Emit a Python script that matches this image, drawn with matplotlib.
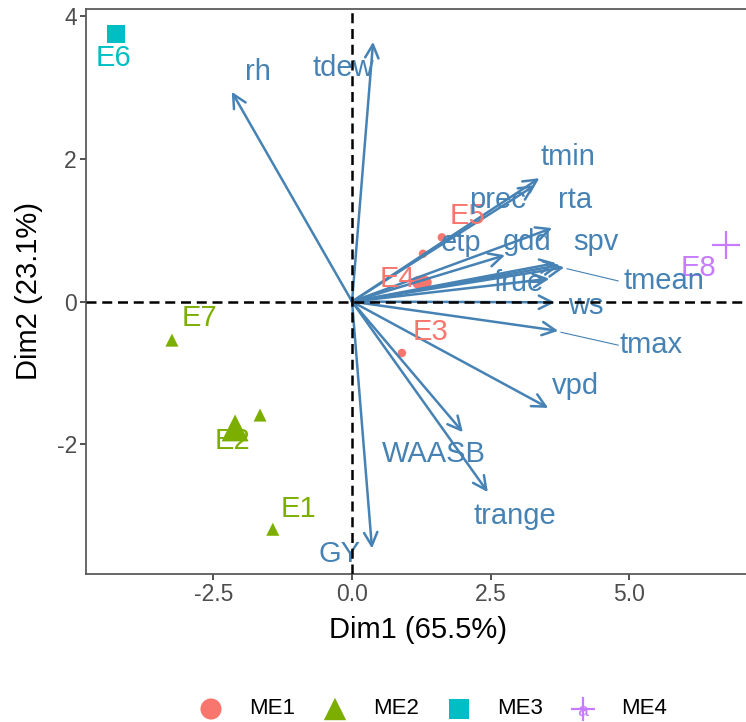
import matplotlib
matplotlib.use("Agg")
import matplotlib.pyplot as plt

plt.rcParams["font.family"] = ["Liberation Sans", "DejaVu Sans"]
plt.rcParams["axes.unicode_minus"] = False

# environment scores (Dim1, Dim2)
env_names = ["E1", "E2", "E3", "E4", "E5", "E6", "E7", "E8"]
env_group = ["ME2", "ME2", "ME1", "ME1", "ME1", "ME3", "ME2", "ME4"]
env_x = [-1.43, -2.11, 0.90, 1.32, 1.62, -4.26, -3.25, 6.75]
env_y = [-3.19, -1.77, -0.72, 0.27, 0.90, 3.75, -0.54, 0.79]
env_size = [88, 377, 37, 88, 37, 169, 88, 400]
env_lab_x = [-0.96, -2.15, 1.41, 0.81, 2.09, -4.30, -2.76, 6.25]
env_lab_y = [-2.90, -1.96, -0.43, 0.32, 1.20, 3.41, -0.23, 0.47]

# extra overlapping scores without their own label
extra_group = ["ME1", "ME1", "ME2"]
extra_x = [1.28, 1.20, -1.66]
extra_y = [0.67, 0.27, -1.59]
extra_size = [37, 88, 88]

# variable loadings
var_names = ["rh", "tdew", "GY", "tmin", "prec", "gdd", "etp", "rta", "spv",
             "tmean", "frue", "ws", "tmax", "vpd", "WAASB", "trange"]
var_x = [-2.17, 0.38, 0.36, 3.38, 3.30, 3.61, 2.76, 3.68, 3.75,
         3.83, 3.56, 3.66, 3.72, 3.54, 2.00, 2.45]
var_y = [2.94, 3.64, -3.46, 1.73, 1.63, 1.03, 0.65, 0.54, 0.51,
         0.48, 0.32, -0.01, -0.41, -1.49, -1.83, -2.67]
var_lab_x = [-1.70, -0.16, -0.22, 3.90, 2.62, 3.16, 1.97, 4.03, 4.40,
             5.63, 3.00, 4.21, 5.40, 4.03, 1.48, 2.94]
var_lab_y = [3.22, 3.27, -3.54, 2.03, 1.42, 0.83, 0.82, 1.42, 0.83,
             0.29, 0.26, -0.06, -0.61, -1.18, -2.14, -3.01]
leader_vars = {"tmean": 0.83, "tmax": 0.60}

groups = ["ME1", "ME2", "ME3", "ME4"]
colors = {"ME1": "#F8766D", "ME2": "#7CAE00", "ME3": "#00BFC4", "ME4": "#C77CFF"}
markers = {"ME1": "o", "ME2": "^", "ME3": "s", "ME4": "+"}
arrow_col = "#4682B4"

fig = plt.figure(figsize=(7.46, 7.22), dpi=100)
ax = fig.add_axes([86 / 746, 148.5 / 722, 664 / 746, 564.5 / 722])

for g, x, y, s in zip(extra_group + env_group, extra_x + env_x,
                      extra_y + env_y, extra_size + env_size):
    if markers[g] == "+":
        ax.scatter(x, y, s=s, marker="+", color=colors[g], linewidths=1.6, zorder=2)
    else:
        ax.scatter(x, y, s=s, marker=markers[g], color=colors[g],
                   edgecolors="none", zorder=2)

for name, g, lx, ly in zip(env_names, env_group, env_lab_x, env_lab_y):
    ax.text(lx, ly, name, color=colors[g], fontsize=21, ha="center",
            va="center", zorder=4)

for name, x, y, lx, ly in zip(var_names, var_x, var_y, var_lab_x, var_lab_y):
    ax.annotate("", xy=(x, y), xytext=(0, 0),
                arrowprops=dict(arrowstyle="->,head_length=0.6,head_width=0.3",
                                color=arrow_col, lw=1.8, mutation_scale=16,
                                shrinkA=0, shrinkB=0),
                zorder=3)
    ax.text(lx, ly, name, color=arrow_col, fontsize=21, ha="center",
            va="center", zorder=4)
    if name in leader_vars:
        ax.plot([x + 0.05, lx - leader_vars[name]], [y - 0.02, ly],
                color=arrow_col, lw=0.8, zorder=3)

ax.axhline(0, color="black", lw=1.8, ls=(0, (4, 2.3)), zorder=5)
ax.axvline(0, color="black", lw=1.8, ls=(0, (4, 2.3)), zorder=5)

ax.set_xlim(-4.80, 7.18)
ax.set_ylim(-3.81, 4.10)
ax.set_xticks([-2.5, 0.0, 2.5, 5.0])
ax.set_xticklabels(["-2.5", "0.0", "2.5", "5.0"])
ax.set_yticks([-2, 0, 2, 4])
ax.tick_params(length=4.5, width=1.2, color="#333333", labelsize=16.5,
               labelcolor="#4D4D4D", pad=2)
for sp in ax.spines.values():
    sp.set_color("#5A5A5A")
    sp.set_linewidth(1.3)

ax.set_xlabel("Dim1 (65.5%)", fontsize=21)
ax.set_ylabel("Dim2 (23.1%)", fontsize=21)
ax.xaxis.label.set_va("center")
ax.xaxis.set_label_coords(0.5, -0.100)
ax.yaxis.label.set_va("center")
ax.yaxis.label.set_ha("center")
ax.yaxis.set_label_coords(-0.086, 0.5)

# legend row along the bottom
leg = fig.add_axes([0, 0, 1, 1], facecolor="none")
leg.set_xlim(0, 746)
leg.set_ylim(722, 0)
leg.axis("off")
for i, g in enumerate(groups):
    mx = 211 + 124 * i
    leg.text(mx, 712, "a", color=colors[g], fontsize=14, ha="center",
             va="center")
    if markers[g] == "+":
        leg.scatter(mx, 709, s=320, marker="+", color=colors[g], linewidths=1.6)
    else:
        sz = {"o": 230, "^": 260, "s": 200}[markers[g]]
        leg.scatter(mx, 709, s=sz, marker=markers[g], color=colors[g],
                    edgecolors="none")
    leg.text(mx + 38, 709, g, fontsize=16, ha="left", va="center")

fig.savefig("out.png", dpi=100)
